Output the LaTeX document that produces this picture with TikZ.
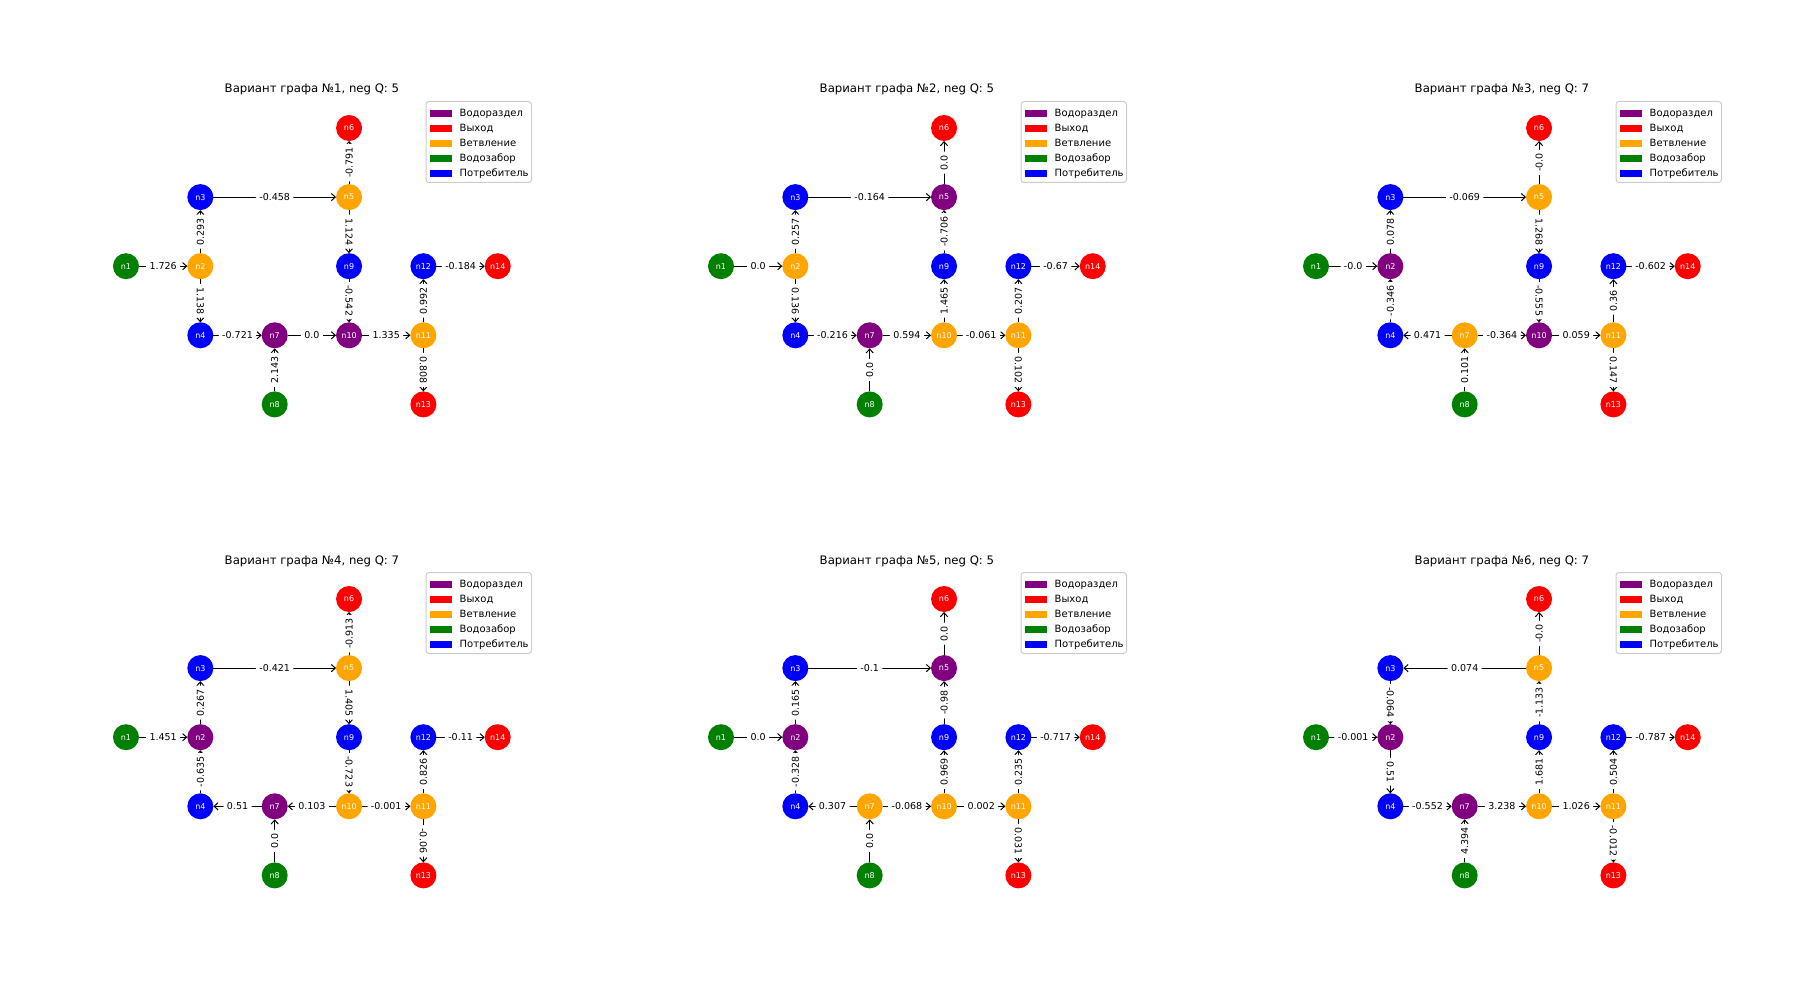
\documentclass[tikz,border=0pt]{standalone}
\usepackage{fontspec}
\setmainfont{DejaVu Sans}
\usetikzlibrary{arrows.meta}
\definecolor{cpurple}{HTML}{800080}
\definecolor{cred}{HTML}{FF0000}
\definecolor{corange}{HTML}{FFA500}
\definecolor{cgreen}{HTML}{008000}
\definecolor{cblue}{HTML}{0000FF}
\tikzset{
 vert/.style={circle, minimum size=13pt, inner sep=0pt, outer sep=0pt, text=white, font=\fontsize{4}{4}\selectfont},
 flow/.style={draw=black, line width=0.5pt, -{Straight Barb[length=2pt,width=3.6pt,line width=0.5pt]}},
 elab/.style={fill=white, rounded corners=1pt, inner xsep=1.7pt, inner ysep=1.2pt, text=black, font=\fontsize{4.75}{5}\selectfont},
 ttl/.style={font=\fontsize{5.85}{7}\selectfont, text=black, anchor=base, inner sep=0pt},
 lgbox/.style={draw=black!20, fill=white, rounded corners=1.5pt, line width=0.5pt},
 lgpatch/.style={minimum width=10.8pt, minimum height=3.6pt, inner sep=0pt, outer sep=0pt},
 lgtext/.style={font=\fontsize{5}{6}\selectfont, anchor=base west, inner sep=0pt, text=black},
}
\newcommand\vgraph[9]{%
\begin{scope}[shift={(#2,#3)}]
\node[ttl] (#1t) at (311.9,93) {Вариант графа №#4, neg Q: #5};
\node[vert,fill=cgreen] (#11) at (126,266.2) {n1};
\node[vert,fill=#6] (#12) at (200.35,266.2) {n2};
\node[vert,fill=cblue] (#13) at (200.35,197.1) {n3};
\node[vert,fill=cblue] (#14) at (200.35,335.3) {n4};
\node[vert,fill=#7] (#15) at (349.05,197.1) {n5};
\node[vert,fill=cred] (#16) at (349.05,128) {n6};
\node[vert,fill=#8] (#17) at (274.7,335.3) {n7};
\node[vert,fill=cgreen] (#18) at (274.7,404.4) {n8};
\node[vert,fill=cblue] (#19) at (349.05,266.2) {n9};
\node[vert,fill=#9] (#110) at (349.05,335.3) {n10};
\node[vert,fill=corange] (#111) at (423.4,335.3) {n11};
\node[vert,fill=cblue] (#112) at (423.4,266.2) {n12};
\node[vert,fill=cred] (#113) at (423.4,404.4) {n13};
\node[vert,fill=cred] (#114) at (497.75,266.2) {n14};
\draw[lgbox] (426,101.5) rectangle (531.5,182.5);
\node[lgpatch,fill=cpurple] (#1p1) at (440.8,113.3) {};
\node[lgpatch,fill=cred] (#1p2) at (440.8,128.3) {};
\node[lgpatch,fill=corange] (#1p3) at (440.8,143.3) {};
\node[lgpatch,fill=cgreen] (#1p4) at (440.8,158.3) {};
\node[lgpatch,fill=cblue] (#1p5) at (440.8,173.3) {};
\node[lgtext] (#1l1) at (459.3,116.9) {Водораздел};
\node[lgtext] (#1l2) at (459.3,131.9) {Выход};
\node[lgtext] (#1l3) at (459.3,146.9) {Ветвление};
\node[lgtext] (#1l4) at (459.3,161.9) {Водозабор};
\node[lgtext] (#1l5) at (459.3,176.9) {Потребитель};
\end{scope}}
\newcommand\flowedge[4]{\draw[flow] (#1) -- node[elab,rotate=#4]{#3} (#2);}
\begin{document}
\begin{tikzpicture}[x=0.5pt,y=-0.5pt]
\fill[white] (0,0) rectangle (1800,1000);
\useasboundingbox (0,0) rectangle (1800,1000);
% ---------- variant 1
\vgraph{a}{0}{0}{1}{5}{corange}{corange}{cpurple}{cpurple}
\flowedge{a1}{a2}{1.726}{0}
\flowedge{a2}{a3}{0.293}{90}
\flowedge{a2}{a4}{1.138}{-90}
\flowedge{a3}{a5}{-0.458}{0}
\flowedge{a5}{a6}{-0.791}{90}
\flowedge{a5}{a9}{1.124}{-90}
\flowedge{a4}{a7}{-0.721}{0}
\flowedge{a8}{a7}{2.143}{90}
\flowedge{a7}{a10}{0.0}{0}
\flowedge{a9}{a10}{-0.542}{-90}
\flowedge{a10}{a11}{1.335}{0}
\flowedge{a11}{a12}{0.992}{90}
\flowedge{a11}{a13}{0.808}{-90}
\flowedge{a12}{a14}{-0.184}{0}
% ---------- variant 2
\vgraph{b}{595}{0}{2}{5}{corange}{cpurple}{cpurple}{corange}
\flowedge{b1}{b2}{0.0}{0}
\flowedge{b2}{b3}{0.257}{90}
\flowedge{b2}{b4}{0.136}{-90}
\flowedge{b3}{b5}{-0.164}{0}
\flowedge{b5}{b6}{0.0}{90}
\flowedge{b9}{b5}{-0.706}{90}
\flowedge{b4}{b7}{-0.216}{0}
\flowedge{b8}{b7}{0.0}{90}
\flowedge{b7}{b10}{0.594}{0}
\flowedge{b10}{b9}{1.465}{90}
\flowedge{b10}{b11}{-0.061}{0}
\flowedge{b11}{b12}{0.207}{90}
\flowedge{b11}{b13}{0.102}{-90}
\flowedge{b12}{b14}{-0.67}{0}
% ---------- variant 3
\vgraph{c}{1190}{0}{3}{7}{cpurple}{corange}{corange}{cpurple}
\flowedge{c1}{c2}{-0.0}{0}
\flowedge{c2}{c3}{0.078}{90}
\flowedge{c4}{c2}{-0.346}{90}
\flowedge{c3}{c5}{-0.069}{0}
\flowedge{c5}{c6}{-0.0}{90}
\flowedge{c5}{c9}{1.268}{-90}
\flowedge{c7}{c4}{0.471}{0}
\flowedge{c8}{c7}{0.101}{90}
\flowedge{c7}{c10}{-0.364}{0}
\flowedge{c9}{c10}{-0.555}{-90}
\flowedge{c10}{c11}{0.059}{0}
\flowedge{c11}{c12}{0.36}{90}
\flowedge{c11}{c13}{0.147}{-90}
\flowedge{c12}{c14}{-0.602}{0}
% ---------- variant 4
\vgraph{d}{0}{471}{4}{7}{cpurple}{corange}{cpurple}{corange}
\flowedge{d1}{d2}{1.451}{0}
\flowedge{d2}{d3}{0.267}{90}
\flowedge{d4}{d2}{-0.635}{90}
\flowedge{d3}{d5}{-0.421}{0}
\flowedge{d5}{d6}{-0.913}{90}
\flowedge{d5}{d9}{1.405}{-90}
\flowedge{d7}{d4}{0.51}{0}
\flowedge{d8}{d7}{0.0}{90}
\flowedge{d10}{d7}{0.103}{0}
\flowedge{d9}{d10}{-0.723}{-90}
\flowedge{d10}{d11}{-0.001}{0}
\flowedge{d11}{d12}{0.826}{90}
\flowedge{d11}{d13}{-0.06}{-90}
\flowedge{d12}{d14}{-0.11}{0}
% ---------- variant 5
\vgraph{e}{595}{471}{5}{5}{cpurple}{cpurple}{corange}{corange}
\flowedge{e1}{e2}{0.0}{0}
\flowedge{e2}{e3}{0.165}{90}
\flowedge{e4}{e2}{-0.328}{90}
\flowedge{e3}{e5}{-0.1}{0}
\flowedge{e5}{e6}{0.0}{90}
\flowedge{e9}{e5}{-0.98}{90}
\flowedge{e7}{e4}{0.307}{0}
\flowedge{e8}{e7}{0.0}{90}
\flowedge{e7}{e10}{-0.068}{0}
\flowedge{e10}{e9}{0.969}{90}
\flowedge{e10}{e11}{0.002}{0}
\flowedge{e11}{e12}{0.235}{90}
\flowedge{e11}{e13}{0.031}{-90}
\flowedge{e12}{e14}{-0.717}{0}
% ---------- variant 6
\vgraph{f}{1190}{471}{6}{7}{cpurple}{corange}{cpurple}{corange}
\flowedge{f1}{f2}{-0.001}{0}
\flowedge{f3}{f2}{-0.064}{-90}
\flowedge{f2}{f4}{0.51}{-90}
\flowedge{f5}{f3}{0.074}{0}
\flowedge{f5}{f6}{-0.0}{90}
\flowedge{f9}{f5}{-1.133}{90}
\flowedge{f4}{f7}{-0.552}{0}
\flowedge{f8}{f7}{4.394}{90}
\flowedge{f7}{f10}{3.238}{0}
\flowedge{f10}{f9}{1.681}{90}
\flowedge{f10}{f11}{1.026}{0}
\flowedge{f11}{f12}{0.504}{90}
\flowedge{f11}{f13}{-0.012}{-90}
\flowedge{f12}{f14}{-0.787}{0}
\end{tikzpicture}
\end{document}
